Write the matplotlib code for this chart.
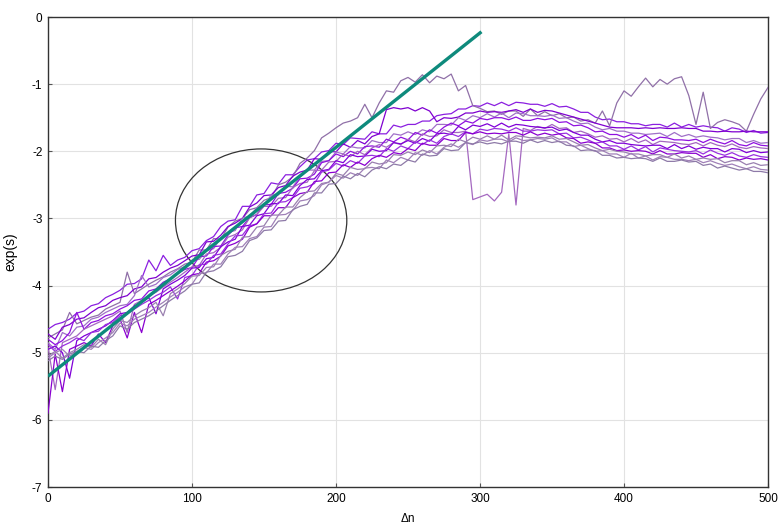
import matplotlib
matplotlib.use("Agg")
import matplotlib.pyplot as plt
from matplotlib.patches import Ellipse

plt.rcParams['axes.unicode_minus'] = False

# sampling grid (delta n)
dn = list(range(0, 501, 5))

run_01 = [-4.65, -4.58, -4.55, -4.50, -4.41, -4.38, -4.30, -4.27, -4.18, -4.13,
          -4.07, -3.98, -3.97, -3.90, -3.62, -3.78, -3.55, -3.70, -3.62, -3.58,
          -3.48, -3.45, -3.33, -3.27, -3.12, -3.04, -3.02, -2.82, -2.82, -2.65,
          -2.63, -2.47, -2.49, -2.35, -2.35, -2.23, -2.13, -2.11, -2.01, -1.99,
          -1.88, -1.90, -1.80, -1.81, -1.82, -1.71, -1.74, -1.74, -1.61, -1.64,
          -1.60, -1.60, -1.55, -1.55, -1.47, -1.45, -1.44, -1.37, -1.37, -1.32,
          -1.33, -1.28, -1.32, -1.27, -1.32, -1.27, -1.28, -1.30, -1.30, -1.33,
          -1.29, -1.34, -1.33, -1.37, -1.42, -1.42, -1.49, -1.53, -1.52, -1.56,
          -1.56, -1.59, -1.59, -1.62, -1.60, -1.60, -1.64, -1.58, -1.64, -1.60,
          -1.64, -1.62, -1.64, -1.65, -1.70, -1.65, -1.67, -1.72, -1.69, -1.73,
          -1.72]
run_02 = [-4.78, -4.72, -4.66, -4.40, -4.57, -4.52, -4.47, -4.44, -4.35, -4.30,
          -4.25, -3.80, -4.12, -4.05, -3.98, -3.92, -3.87, -3.80, -3.75, -3.68,
          -3.65, -3.47, -3.47, -3.30, -3.31, -3.13, -3.04, -3.00, -2.87, -2.84,
          -2.73, -2.69, -2.50, -2.46, -2.38, -2.18, -2.10, -1.99, -1.80, -1.73,
          -1.65, -1.58, -1.55, -1.50, -1.30, -1.50, -1.28, -1.10, -1.12, -0.95,
          -0.90, -0.97, -0.86, -0.98, -0.88, -0.92, -0.85, -1.10, -1.02, -1.32,
          -1.36, -1.41, -1.40, -1.45, -1.40, -1.40, -1.48, -1.37, -1.47, -1.41,
          -1.47, -1.44, -1.50, -1.49, -1.55, -1.53, -1.58, -1.40, -1.62, -1.28,
          -1.10, -1.18, -1.04, -0.91, -1.04, -0.93, -1.00, -0.92, -0.89, -1.17,
          -1.60, -1.12, -1.66, -1.57, -1.53, -1.56, -1.60, -1.70, -1.45, -1.22,
          -1.05]
run_03 = [-4.72, -4.80, -4.62, -4.58, -4.50, -4.48, -4.40, -4.33, -4.30, -4.22,
          -4.18, -4.15, -4.05, -4.02, -3.90, -3.88, -3.80, -3.74, -3.70, -3.63,
          -3.56, -3.54, -3.35, -3.34, -3.25, -3.12, -3.07, -3.00, -2.83, -2.77,
          -2.66, -2.65, -2.54, -2.51, -2.37, -2.31, -2.28, -2.11, -2.12, -2.00,
          -2.01, -1.89, -1.94, -1.84, -1.89, -1.78, -1.74, -1.38, -1.35, -1.37,
          -1.35, -1.40, -1.35, -1.40, -1.56, -1.50, -1.51, -1.49, -1.43, -1.43,
          -1.40, -1.42, -1.41, -1.42, -1.40, -1.38, -1.42, -1.37, -1.42, -1.39,
          -1.40, -1.43, -1.46, -1.49, -1.52, -1.55, -1.58, -1.61, -1.64, -1.65,
          -1.65, -1.65, -1.66, -1.65, -1.66, -1.65, -1.66, -1.66, -1.65, -1.66,
          -1.66, -1.70, -1.70, -1.71, -1.70, -1.71, -1.71, -1.70, -1.71, -1.71,
          -1.71]
run_04 = [-4.85, -4.95, -4.70, -4.75, -4.62, -4.60, -4.50, -4.47, -4.40, -4.35,
          -4.30, -4.28, -4.15, -3.85, -4.02, -3.98, -3.88, -3.84, -3.76, -3.72,
          -3.62, -3.61, -3.48, -3.45, -3.29, -3.21, -3.18, -2.99, -2.97, -2.84,
          -2.81, -2.65, -2.65, -2.52, -2.53, -2.38, -2.28, -2.28, -2.15, -2.14,
          -2.01, -2.04, -1.93, -1.95, -1.95, -1.84, -1.87, -1.87, -1.74, -1.76,
          -1.71, -1.75, -1.68, -1.71, -1.60, -1.60, -1.61, -1.50, -1.54, -1.47,
          -1.50, -1.44, -1.49, -1.43, -1.50, -1.43, -1.44, -1.47, -1.47, -1.48,
          -1.46, -1.51, -1.50, -1.55, -1.59, -1.58, -1.64, -1.68, -1.66, -1.70,
          -1.70, -1.73, -1.73, -1.75, -1.74, -1.73, -1.78, -1.72, -1.78, -1.75,
          -1.79, -1.77, -1.79, -1.80, -1.83, -1.81, -1.81, -1.87, -1.84, -1.88,
          -1.87]
run_05 = [-4.80, -4.88, -4.82, -4.70, -4.40, -4.65, -4.55, -4.52, -4.45, -4.42,
          -4.35, -4.30, -4.22, -4.20, -4.08, -4.05, -3.95, -3.90, -3.82, -3.76,
          -3.73, -3.57, -3.56, -3.42, -3.41, -3.25, -3.14, -3.12, -2.99, -2.94,
          -2.80, -2.79, -2.63, -2.61, -2.55, -2.41, -2.40, -2.34, -2.17, -2.14,
          -2.04, -2.08, -2.00, -2.04, -1.93, -1.92, -1.94, -1.82, -1.86, -1.79,
          -1.83, -1.72, -1.76, -1.68, -1.73, -1.64, -1.58, -1.62, -1.55, -1.58,
          -1.51, -1.53, -1.50, -1.50, -1.53, -1.49, -1.54, -1.54, -1.51, -1.53,
          -1.51, -1.57, -1.56, -1.62, -1.61, -1.65, -1.71, -1.70, -1.75, -1.75,
          -1.79, -1.75, -1.81, -1.76, -1.84, -1.79, -1.80, -1.83, -1.83, -1.84,
          -1.82, -1.87, -1.82, -1.86, -1.89, -1.84, -1.90, -1.92, -1.87, -1.91,
          -1.92]
run_06 = [-4.92, -5.55, -4.85, -4.80, -4.75, -4.65, -4.60, -4.55, -4.50, -4.45,
          -4.38, -4.70, -4.28, -4.22, -4.15, -4.10, -4.02, -3.95, -3.88, -3.80,
          -3.72, -3.70, -3.53, -3.51, -3.43, -3.28, -3.24, -3.17, -2.99, -2.94,
          -2.82, -2.82, -2.70, -2.69, -2.54, -2.48, -2.46, -2.29, -2.28, -2.16,
          -2.15, -2.04, -2.08, -2.00, -2.05, -1.95, -1.90, -1.94, -1.87, -1.90,
          -1.82, -1.86, -1.74, -1.78, -1.77, -1.68, -1.72, -1.72, -1.70, -2.72,
          -2.68, -2.64, -2.74, -2.61, -1.74, -2.80, -1.66, -1.69, -1.63, -1.66,
          -1.60, -1.66, -1.65, -1.72, -1.70, -1.74, -1.79, -1.77, -1.82, -1.81,
          -1.86, -1.81, -1.87, -1.83, -1.90, -1.85, -1.86, -1.87, -1.89, -1.90,
          -1.87, -1.92, -1.87, -1.91, -1.93, -1.89, -1.94, -1.96, -1.93, -1.95,
          -1.96]
run_07 = [-4.95, -4.90, -5.00, -5.38, -4.82, -4.75, -4.70, -4.65, -4.60, -4.52,
          -4.42, -4.40, -4.30, -4.25, -4.18, -4.42, -4.05, -3.98, -3.92, -3.85,
          -3.74, -3.73, -3.60, -3.58, -3.42, -3.35, -3.31, -3.12, -3.10, -2.96,
          -2.93, -2.78, -2.78, -2.65, -2.66, -2.51, -2.42, -2.41, -2.29, -2.27,
          -2.14, -2.17, -2.05, -2.08, -2.07, -1.97, -2.00, -1.99, -1.87, -1.89,
          -1.84, -1.88, -1.81, -1.85, -1.74, -1.73, -1.75, -1.63, -1.68, -1.61,
          -1.63, -1.59, -1.64, -1.58, -1.64, -1.60, -1.61, -1.63, -1.64, -1.65,
          -1.64, -1.69, -1.67, -1.72, -1.76, -1.76, -1.82, -1.86, -1.84, -1.88,
          -1.88, -1.90, -1.91, -1.92, -1.91, -1.91, -1.96, -1.90, -1.96, -1.92,
          -1.97, -1.94, -1.96, -1.96, -2.01, -1.96, -1.97, -2.02, -1.99, -2.02,
          -2.01]
run_08 = [-4.88, -4.98, -4.90, -4.85, -4.78, -4.82, -4.70, -4.68, -4.58, -4.55,
          -4.45, -4.42, -4.35, -4.28, -4.22, -4.15, -4.10, -4.02, -4.20, -3.88,
          -3.85, -3.69, -3.68, -3.55, -3.53, -3.38, -3.26, -3.25, -3.11, -3.08,
          -2.93, -2.92, -2.76, -2.75, -2.69, -2.55, -2.53, -2.48, -2.31, -2.28,
          -2.18, -2.22, -2.14, -2.18, -2.07, -2.06, -2.08, -1.96, -2.00, -1.92,
          -1.96, -1.86, -1.90, -1.83, -1.88, -1.78, -1.74, -1.78, -1.71, -1.74,
          -1.67, -1.69, -1.66, -1.67, -1.70, -1.65, -1.70, -1.70, -1.68, -1.69,
          -1.68, -1.74, -1.73, -1.80, -1.79, -1.83, -1.88, -1.86, -1.92, -1.92,
          -1.97, -1.92, -1.98, -1.93, -2.01, -1.95, -1.97, -1.99, -2.00, -2.01,
          -1.99, -2.04, -1.98, -2.03, -2.06, -2.02, -2.07, -2.09, -2.05, -2.08,
          -2.09]
run_09 = [-5.90, -5.02, -5.58, -4.95, -4.90, -4.85, -4.90, -4.72, -4.85, -4.60,
          -4.50, -4.78, -4.40, -4.70, -4.28, -4.22, -4.15, -4.08, -4.01, -3.93,
          -3.84, -3.82, -3.65, -3.63, -3.56, -3.41, -3.37, -3.31, -3.13, -3.08,
          -2.96, -2.96, -2.84, -2.84, -2.69, -2.63, -2.61, -2.45, -2.44, -2.32,
          -2.31, -2.20, -2.24, -2.16, -2.21, -2.11, -2.06, -2.09, -2.02, -2.04,
          -1.96, -1.99, -1.88, -1.91, -1.91, -1.81, -1.84, -1.84, -1.72, -1.74,
          -1.71, -1.74, -1.73, -1.74, -1.72, -1.72, -1.76, -1.71, -1.76, -1.73,
          -1.76, -1.74, -1.80, -1.81, -1.88, -1.86, -1.88, -1.95, -1.95, -1.99,
          -1.98, -2.00, -1.99, -2.00, -2.04, -1.99, -2.04, -2.04, -2.02, -2.03,
          -2.03, -2.09, -2.05, -2.11, -2.08, -2.09, -2.13, -2.10, -2.12, -2.11,
          -2.13]
run_10 = [-5.05, -4.98, -5.08, -5.00, -4.95, -4.88, -4.92, -4.80, -4.88, -4.65,
          -4.52, -4.55, -4.45, -4.38, -4.33, -4.25, -4.45, -4.12, -4.05, -3.97,
          -3.86, -3.85, -3.73, -3.72, -3.55, -3.49, -3.46, -3.28, -3.27, -3.13,
          -3.11, -2.95, -2.95, -2.83, -2.83, -2.69, -2.60, -2.59, -2.48, -2.46,
          -2.33, -2.36, -2.24, -2.27, -2.26, -2.16, -2.19, -2.17, -2.05, -2.06,
          -2.01, -2.05, -1.98, -2.02, -1.92, -1.91, -1.93, -1.82, -1.86, -1.79,
          -1.82, -1.77, -1.82, -1.76, -1.83, -1.77, -1.78, -1.80, -1.79, -1.80,
          -1.77, -1.82, -1.81, -1.86, -1.91, -1.90, -1.95, -1.99, -1.97, -2.00,
          -2.01, -2.04, -2.04, -2.07, -2.05, -2.05, -2.09, -2.04, -2.10, -2.07,
          -2.12, -2.10, -2.12, -2.11, -2.17, -2.14, -2.14, -2.20, -2.17, -2.21,
          -2.20]
run_11 = [-5.08, -5.00, -4.95, -5.05, -4.98, -4.92, -4.95, -4.85, -4.78, -4.70,
          -4.56, -4.60, -4.50, -4.45, -4.40, -4.32, -4.25, -4.17, -4.10, -4.02,
          -3.98, -3.82, -3.81, -3.68, -3.68, -3.53, -3.43, -3.42, -3.30, -3.27,
          -3.13, -3.12, -2.95, -2.94, -2.88, -2.74, -2.72, -2.66, -2.50, -2.46,
          -2.36, -2.40, -2.32, -2.36, -2.25, -2.24, -2.26, -2.13, -2.17, -2.09,
          -2.13, -2.02, -2.06, -1.99, -2.04, -1.94, -1.89, -1.94, -1.87, -1.90,
          -1.83, -1.85, -1.82, -1.82, -1.86, -1.80, -1.84, -1.83, -1.81, -1.82,
          -1.80, -1.86, -1.86, -1.93, -1.91, -1.96, -2.00, -1.99, -2.04, -2.04,
          -2.09, -2.03, -2.10, -2.07, -2.13, -2.08, -2.09, -2.12, -2.12, -2.14,
          -2.12, -2.17, -2.14, -2.18, -2.21, -2.19, -2.23, -2.26, -2.23, -2.27,
          -2.28]
run_12 = [-5.12, -5.05, -5.10, -5.02, -4.98, -5.00, -4.90, -4.92, -4.82, -4.75,
          -4.60, -4.65, -4.55, -4.50, -4.45, -4.38, -4.30, -4.22, -4.15, -4.08,
          -3.98, -3.96, -3.80, -3.78, -3.72, -3.57, -3.55, -3.49, -3.33, -3.29,
          -3.18, -3.17, -3.04, -3.03, -2.87, -2.82, -2.79, -2.62, -2.62, -2.49,
          -2.48, -2.37, -2.41, -2.33, -2.38, -2.28, -2.23, -2.26, -2.19, -2.21,
          -2.13, -2.16, -2.04, -2.07, -2.06, -1.96, -1.99, -1.98, -1.87, -1.89,
          -1.86, -1.89, -1.87, -1.89, -1.85, -1.85, -1.88, -1.83, -1.87, -1.84,
          -1.87, -1.85, -1.91, -1.92, -1.99, -1.98, -1.99, -2.06, -2.06, -2.10,
          -2.09, -2.11, -2.10, -2.11, -2.15, -2.10, -2.15, -2.15, -2.13, -2.16,
          -2.15, -2.21, -2.19, -2.25, -2.22, -2.25, -2.28, -2.26, -2.30, -2.30,
          -2.32]

runs = [run_01, run_02, run_03, run_04, run_05, run_06,
        run_07, run_08, run_09, run_10, run_11, run_12]
run_colors = ['#8B1FE0', '#9070A8', '#7F00D0', '#A070C8', '#9010E0', '#A468C0',
              '#8000D8', '#9A30E0', '#8A00D0', '#9A80B0', '#A080B8', '#8E7AA8']

# linear fit (teal line)
fit_x = [0, 301]
fit_y = [-5.35, -0.22]

# circled region
circle_center = (148, -3.03)
circle_w = 119
circle_h = 2.13

tick_font = ['Liberation Sans Narrow', 'Liberation Sans', 'DejaVu Sans']

fig = plt.figure(figsize=(7.83, 5.29), dpi=100)
ax = fig.add_axes([48 / 783, 1 - 487 / 529, 720 / 783, 470 / 529])

ax.add_patch(Ellipse(circle_center, circle_w, circle_h, fill=False,
                     edgecolor='#333333', lw=0.9, zorder=2))

for ys, c in zip(runs, run_colors):
    ax.plot(dn, ys, color=c, lw=0.9, zorder=3)

ax.plot(fit_x, fit_y, color='#0E8A7C', lw=2.4, solid_capstyle='butt', zorder=5)

ax.set_xlim(0, 500)
ax.set_ylim(-7, 0)
ax.set_xticks([0, 100, 200, 300, 400, 500])
ax.set_yticks([0, -1, -2, -3, -4, -5, -6, -7])
ax.grid(True, color='#e2e2e2', lw=0.8)
ax.set_axisbelow(True)

for s in ax.spines.values():
    s.set_color('#333333')
    s.set_linewidth(1.0)

ax.tick_params(direction='in', length=3, width=0.8, color='#555555',
               labelsize=8.5, pad=4)
for lab in ax.get_xticklabels() + ax.get_yticklabels():
    lab.set_family(tick_font)

ax.set_xlabel('Δn', family=tick_font, fontsize=8.5)
ax.set_ylabel('exp(s)', family=['Liberation Sans', 'DejaVu Sans'], fontsize=10)
ax.xaxis.set_label_coords(0.5, -0.056)
ax.yaxis.set_label_coords(-0.042, 0.5)

fig.savefig('out.png', dpi=100)
